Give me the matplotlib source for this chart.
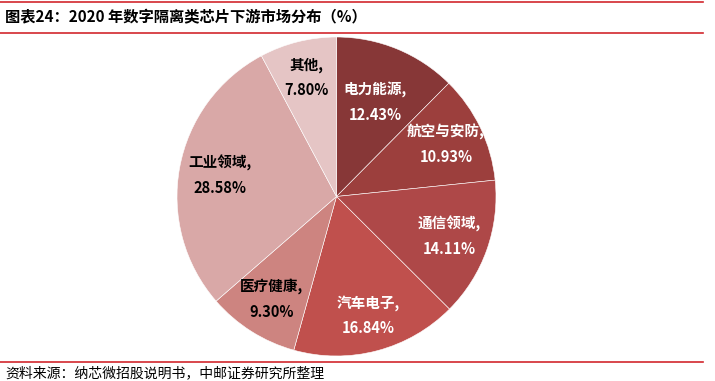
import matplotlib
matplotlib.use("Agg")
import matplotlib.pyplot as plt
import numpy as np

plt.rcParams['font.family'] = ['Noto Sans CJK SC', 'DejaVu Sans']

categories = ["电力能源", "航空与安防", "通信领域", "汽车电子", "医疗健康", "工业领域", "其他"]
values = [12.43, 10.93, 14.11, 16.84, 9.30, 28.58, 7.80]
colors = ["#873737", "#9C3F3D", "#AE4848", "#C0504D", "#CD8480", "#D9A8A7", "#E5C5C5"]
text_colors = ["white", "white", "white", "white", "black", "black", "black"]
label_r = [0.64, 0.76, 0.75, 0.77, 0.76, 0.74, 0.77]

title = "图表24：2020 年数字隔离类芯片下游市场分布（%）"
source = "资料来源：纳芯微招股说明书，中邮证券研究所整理"

W, H = 715, 381
fig = plt.figure(figsize=(W / 100, H / 100), dpi=100)

# pie axes: center (336.5, 196.5), radius ~159.5 px
cx, cy, R = 336.5, 196.5, 159.5
ax = fig.add_axes([(cx - R) / W, 1 - (cy + R) / H, 2 * R / W, 2 * R / H])
wedges, _ = ax.pie(values, colors=colors, startangle=90, counterclock=False,
                   wedgeprops=dict(edgecolor="white", linewidth=0.4))
ax.set_xlim(-1, 1)
ax.set_ylim(-1, 1)
ax.set_aspect("equal")

for w, cat, v, tc, lr in zip(wedges, categories, values, text_colors, label_r):
    ang = np.deg2rad((w.theta1 + w.theta2) / 2)
    x, y = lr * np.cos(ang), lr * np.sin(ang)
    ax.text(x, y, f"{cat},\n{v:.2f}%", ha="center", va="center", color=tc,
            fontsize=10.5, fontweight="bold", linespacing=1.7)

# title and rules
fig.text(5 / W, 1 - 17 / H, title, fontsize=11, fontweight="bold",
         ha="left", va="center", color="black")
for yy in (1.5, 32.5, 362):
    fig.add_artist(plt.Line2D([0, 703 / W], [1 - yy / H, 1 - yy / H],
                              color="#D2282E", linewidth=1.2))
fig.text(5 / W, 1 - 373 / H, source, fontsize=10, ha="left", va="center",
         color="black")

fig.savefig("out.png", dpi=100)
